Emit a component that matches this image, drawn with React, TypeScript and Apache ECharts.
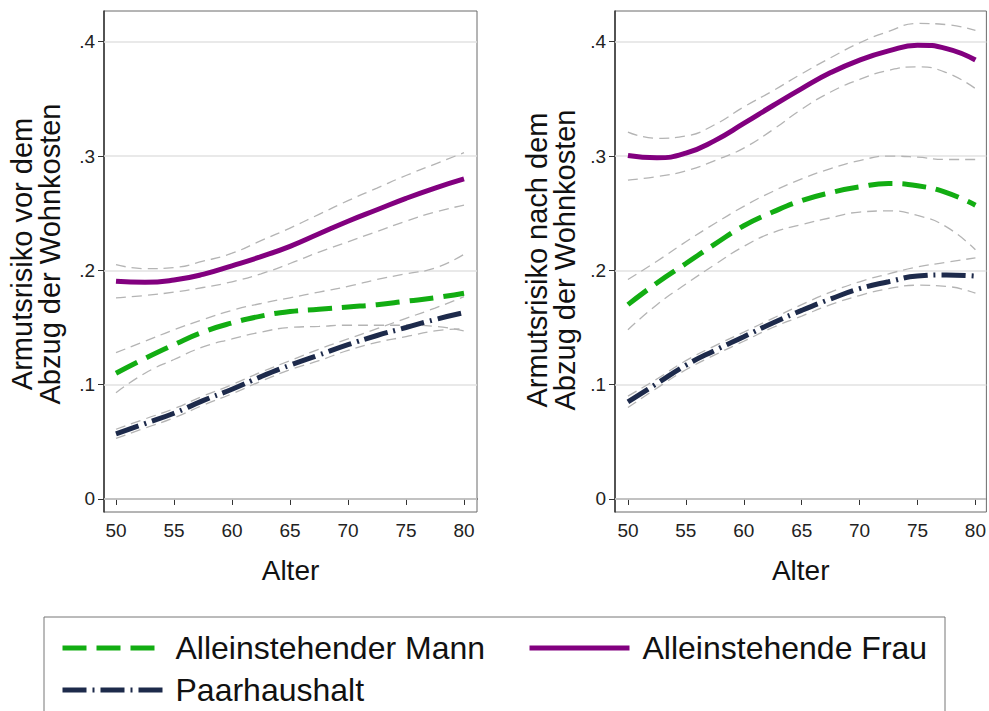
import React, { useEffect, useRef } from 'react';
import * as echarts from 'echarts';

const ages = [50, 52.5, 55, 57.5, 60, 62.5, 65, 67.5, 70, 72.5, 75, 77.5, 80];
const xTicks = [50, 55, 60, 65, 70, 75, 80];
const yTicks = [0, 0.1, 0.2, 0.3, 0.4];
const yTickLabels = ['0', '.1', '.2', '.3', '.4'];

const seriesNames = ['Alleinstehender Mann', 'Alleinstehende Frau', 'Paarhaushalt'];
const xTitle = 'Alter';
const yTitles = ['Armutsrisiko vor dem\nAbzug der Wohnkosten', 'Armutsrisiko nach dem\nAbzug der Wohnkosten'];

// Left panel: vor dem Abzug der Wohnkosten
const vorMann = [0.110, 0.123, 0.135, 0.146, 0.154, 0.160, 0.164, 0.166, 0.168, 0.170, 0.173, 0.176, 0.180];
const vorMannHi = [0.128, 0.138, 0.148, 0.157, 0.165, 0.171, 0.176, 0.181, 0.186, 0.192, 0.197, 0.202, 0.214];
const vorMannLo = [0.093, 0.110, 0.122, 0.133, 0.140, 0.146, 0.150, 0.151, 0.152, 0.152, 0.152, 0.151, 0.147];
const vorFrau = [0.1905, 0.1895, 0.1915, 0.1965, 0.204, 0.212, 0.221, 0.232, 0.243, 0.253, 0.263, 0.272, 0.280];
const vorFrauHi = [0.205, 0.2015, 0.2025, 0.208, 0.215, 0.226, 0.237, 0.249, 0.261, 0.272, 0.283, 0.293, 0.303];
const vorFrauLo = [0.176, 0.178, 0.181, 0.185, 0.190, 0.197, 0.206, 0.216, 0.225, 0.234, 0.243, 0.251, 0.257];
const vorPaar = [0.057, 0.066, 0.075, 0.086, 0.096, 0.107, 0.117, 0.126, 0.135, 0.143, 0.150, 0.157, 0.163];
const vorPaarHi = [0.061, 0.070, 0.079, 0.090, 0.100, 0.111, 0.121, 0.131, 0.140, 0.149, 0.158, 0.167, 0.177];
const vorPaarLo = [0.053, 0.062, 0.071, 0.082, 0.092, 0.103, 0.113, 0.121, 0.130, 0.137, 0.142, 0.147, 0.149];

// Right panel: nach dem Abzug der Wohnkosten
const nachMann = [0.170, 0.189, 0.206, 0.223, 0.239, 0.251, 0.261, 0.268, 0.273, 0.276, 0.274, 0.268, 0.257];
const nachMannHi = [0.192, 0.208, 0.225, 0.241, 0.256, 0.269, 0.280, 0.289, 0.296, 0.300, 0.299, 0.297, 0.297];
const nachMannLo = [0.148, 0.170, 0.188, 0.205, 0.221, 0.233, 0.240, 0.246, 0.251, 0.252, 0.248, 0.238, 0.218];
const nachFrau = [0.3005, 0.2985, 0.3025, 0.3135, 0.3285, 0.344, 0.359, 0.373, 0.384, 0.392, 0.397, 0.394, 0.384];
const nachFrauHi = [0.321, 0.3155, 0.3175, 0.3275, 0.343, 0.357, 0.372, 0.386, 0.399, 0.409, 0.416, 0.415, 0.410];
const nachFrauLo = [0.279, 0.282, 0.287, 0.296, 0.307, 0.323, 0.341, 0.356, 0.367, 0.375, 0.378, 0.373, 0.359];
const nachPaar = [0.085, 0.101, 0.117, 0.130, 0.142, 0.154, 0.165, 0.175, 0.184, 0.190, 0.195, 0.196, 0.195];
const nachPaarHi = [0.090, 0.105, 0.121, 0.134, 0.146, 0.158, 0.170, 0.181, 0.190, 0.197, 0.203, 0.207, 0.211];
const nachPaarLo = [0.080, 0.097, 0.113, 0.126, 0.138, 0.150, 0.160, 0.170, 0.178, 0.184, 0.187, 0.186, 0.180];

const FONT = '"Liberation Sans", Arial, sans-serif';
const GREEN = '#12ad12';
const PURPLE = '#82007f';
const NAVY = '#1d2a4b';
const CI_GRAY = '#b4b4b4';

const pts = (arr: number[]) => ages.map((a, i) => [a, arr[i]]);

function ciSeries(arr: number[], gi: number, withGrid = false): any {
  const s: any = {
    type: 'line',
    name: 'KI',
    xAxisIndex: gi,
    yAxisIndex: gi,
    data: pts(arr),
    smooth: true,
    symbol: 'none',
    silent: true,
    z: 2,
    lineStyle: { color: CI_GRAY, width: 1.3, type: [10, 6] },
  };
  if (withGrid) {
    s.markLine = {
      silent: true,
      z: 1,
      symbol: ['none', 'none'],
      label: { show: false },
      lineStyle: { color: '#e2e2e2', width: 1.5, type: 'solid' },
      data: yTicks.map((v) => ({ yAxis: v })),
    };
  }
  return s;
}

function mainSeries(name: string, arr: number[], gi: number, color: string, type: any): any {
  return {
    type: 'line',
    name,
    xAxisIndex: gi,
    yAxisIndex: gi,
    data: pts(arr),
    smooth: true,
    symbol: 'none',
    z: 3,
    lineStyle: { color, width: 5, type },
    itemStyle: { color },
  };
}

const GREEN_DASH = [24, 10];
const NAVY_DASH = [24, 6, 2, 6];

function xAxisCfg(gi: number, min: number, max: number): any {
  return {
    type: 'value',
    gridIndex: gi,
    min,
    max,
    axisLine: { show: true, lineStyle: { color: '#333', width: 1.5 } },
    axisTick: { show: true, length: 6, customValues: xTicks, lineStyle: { color: '#333' } },
    axisLabel: { customValues: xTicks, fontSize: 19, color: '#222', margin: 9, fontFamily: FONT },
    splitLine: { show: false },
    name: xTitle,
    nameLocation: 'middle',
    nameGap: 44,
    nameTextStyle: { fontSize: 28, color: '#111', fontFamily: FONT },
  };
}

function yAxisCfg(gi: number): any {
  return {
    type: 'value',
    gridIndex: gi,
    min: -0.0114,
    max: 0.4269,
    axisLine: { show: true, lineStyle: { color: '#333', width: 1.5 } },
    axisTick: { show: true, length: 6, customValues: yTicks, lineStyle: { color: '#333' } },
    axisLabel: {
      customValues: yTicks,
      fontSize: 19,
      color: '#222',
      margin: 9,
      fontFamily: FONT,
      formatter: (v: number) => {
        const idx = yTicks.findIndex((t) => Math.abs(t - v) < 1e-6);
        return idx >= 0 ? yTickLabels[idx] : '';
      },
    },
    splitLine: { show: false },
  };
}

function legendCfg(name: string, left: number, top: number): any {
  return {
    data: [name],
    left,
    top,
    padding: 0,
    itemWidth: 100,
    itemHeight: 36,
    lineStyle: { width: 5 },
    itemStyle: { color: 'rgba(0,0,0,0)', borderWidth: 0, opacity: 0 },
    textStyle: { fontSize: 32, color: '#111', fontFamily: FONT, padding: [0, 0, 0, 8], lineHeight: 36 },
    selectedMode: false,
  };
}

export default function App() {
  const ref = useRef<HTMLDivElement>(null);
  useEffect(() => {
    if (!ref.current) return;
    const chart = echarts.init(ref.current, undefined, { renderer: 'svg' });
    const option: any = {
      animation: false,
      backgroundColor: '#ffffff',
      textStyle: { fontFamily: FONT },
      grid: [
        { left: 104, top: 11, width: 373, height: 501, show: true, borderColor: '#6a6a6a', borderWidth: 1 },
        { left: 615, top: 11, width: 373, height: 501, show: true, borderColor: '#6a6a6a', borderWidth: 1 },
      ],
      xAxis: [xAxisCfg(0, 48.966, 81.12), xAxisCfg(1, 48.882, 80.946)],
      yAxis: [yAxisCfg(0), yAxisCfg(1)],
      legend: [
        legendCfg(seriesNames[0], 60, 630),
        legendCfg(seriesNames[1], 527, 630),
        legendCfg(seriesNames[2], 60, 672),
      ],
      graphic: [
        {
          type: 'rect',
          shape: { x: 44, y: 617, width: 901, height: 130 },
          style: { fill: 'none', stroke: '#777', lineWidth: 1 },
          silent: true,
        },
        {
          type: 'text',
          x: 36,
          y: 254,
          rotation: Math.PI / 2,
          style: {
            text: yTitles[0],
            fontSize: 29,
            fontFamily: FONT,
            fill: '#111',
            align: 'center',
            verticalAlign: 'middle',
            lineHeight: 28,
          },
        },
        {
          type: 'text',
          x: 551,
          y: 260,
          rotation: Math.PI / 2,
          style: {
            text: yTitles[1],
            fontSize: 29,
            fontFamily: FONT,
            fill: '#111',
            align: 'center',
            verticalAlign: 'middle',
            lineHeight: 28,
          },
        },
      ],
      series: [
        ciSeries(vorFrauHi, 0, true),
        ciSeries(vorFrauLo, 0),
        ciSeries(vorMannHi, 0),
        ciSeries(vorMannLo, 0),
        ciSeries(vorPaarHi, 0),
        ciSeries(vorPaarLo, 0),
        mainSeries(seriesNames[0], vorMann, 0, GREEN, GREEN_DASH),
        mainSeries(seriesNames[1], vorFrau, 0, PURPLE, 'solid'),
        mainSeries(seriesNames[2], vorPaar, 0, NAVY, NAVY_DASH),
        ciSeries(nachFrauHi, 1, true),
        ciSeries(nachFrauLo, 1),
        ciSeries(nachMannHi, 1),
        ciSeries(nachMannLo, 1),
        ciSeries(nachPaarHi, 1),
        ciSeries(nachPaarLo, 1),
        mainSeries(seriesNames[0], nachMann, 1, GREEN, GREEN_DASH),
        mainSeries(seriesNames[1], nachFrau, 1, PURPLE, 'solid'),
        mainSeries(seriesNames[2], nachPaar, 1, NAVY, NAVY_DASH),
      ],
    };
    chart.setOption(option);
    return () => chart.dispose();
  }, []);
  return (
    <div
      ref={ref}
      style={{ position: 'fixed', left: 0, top: 0, width: 989, height: 711, background: '#fff' }}
    />
  );
}
